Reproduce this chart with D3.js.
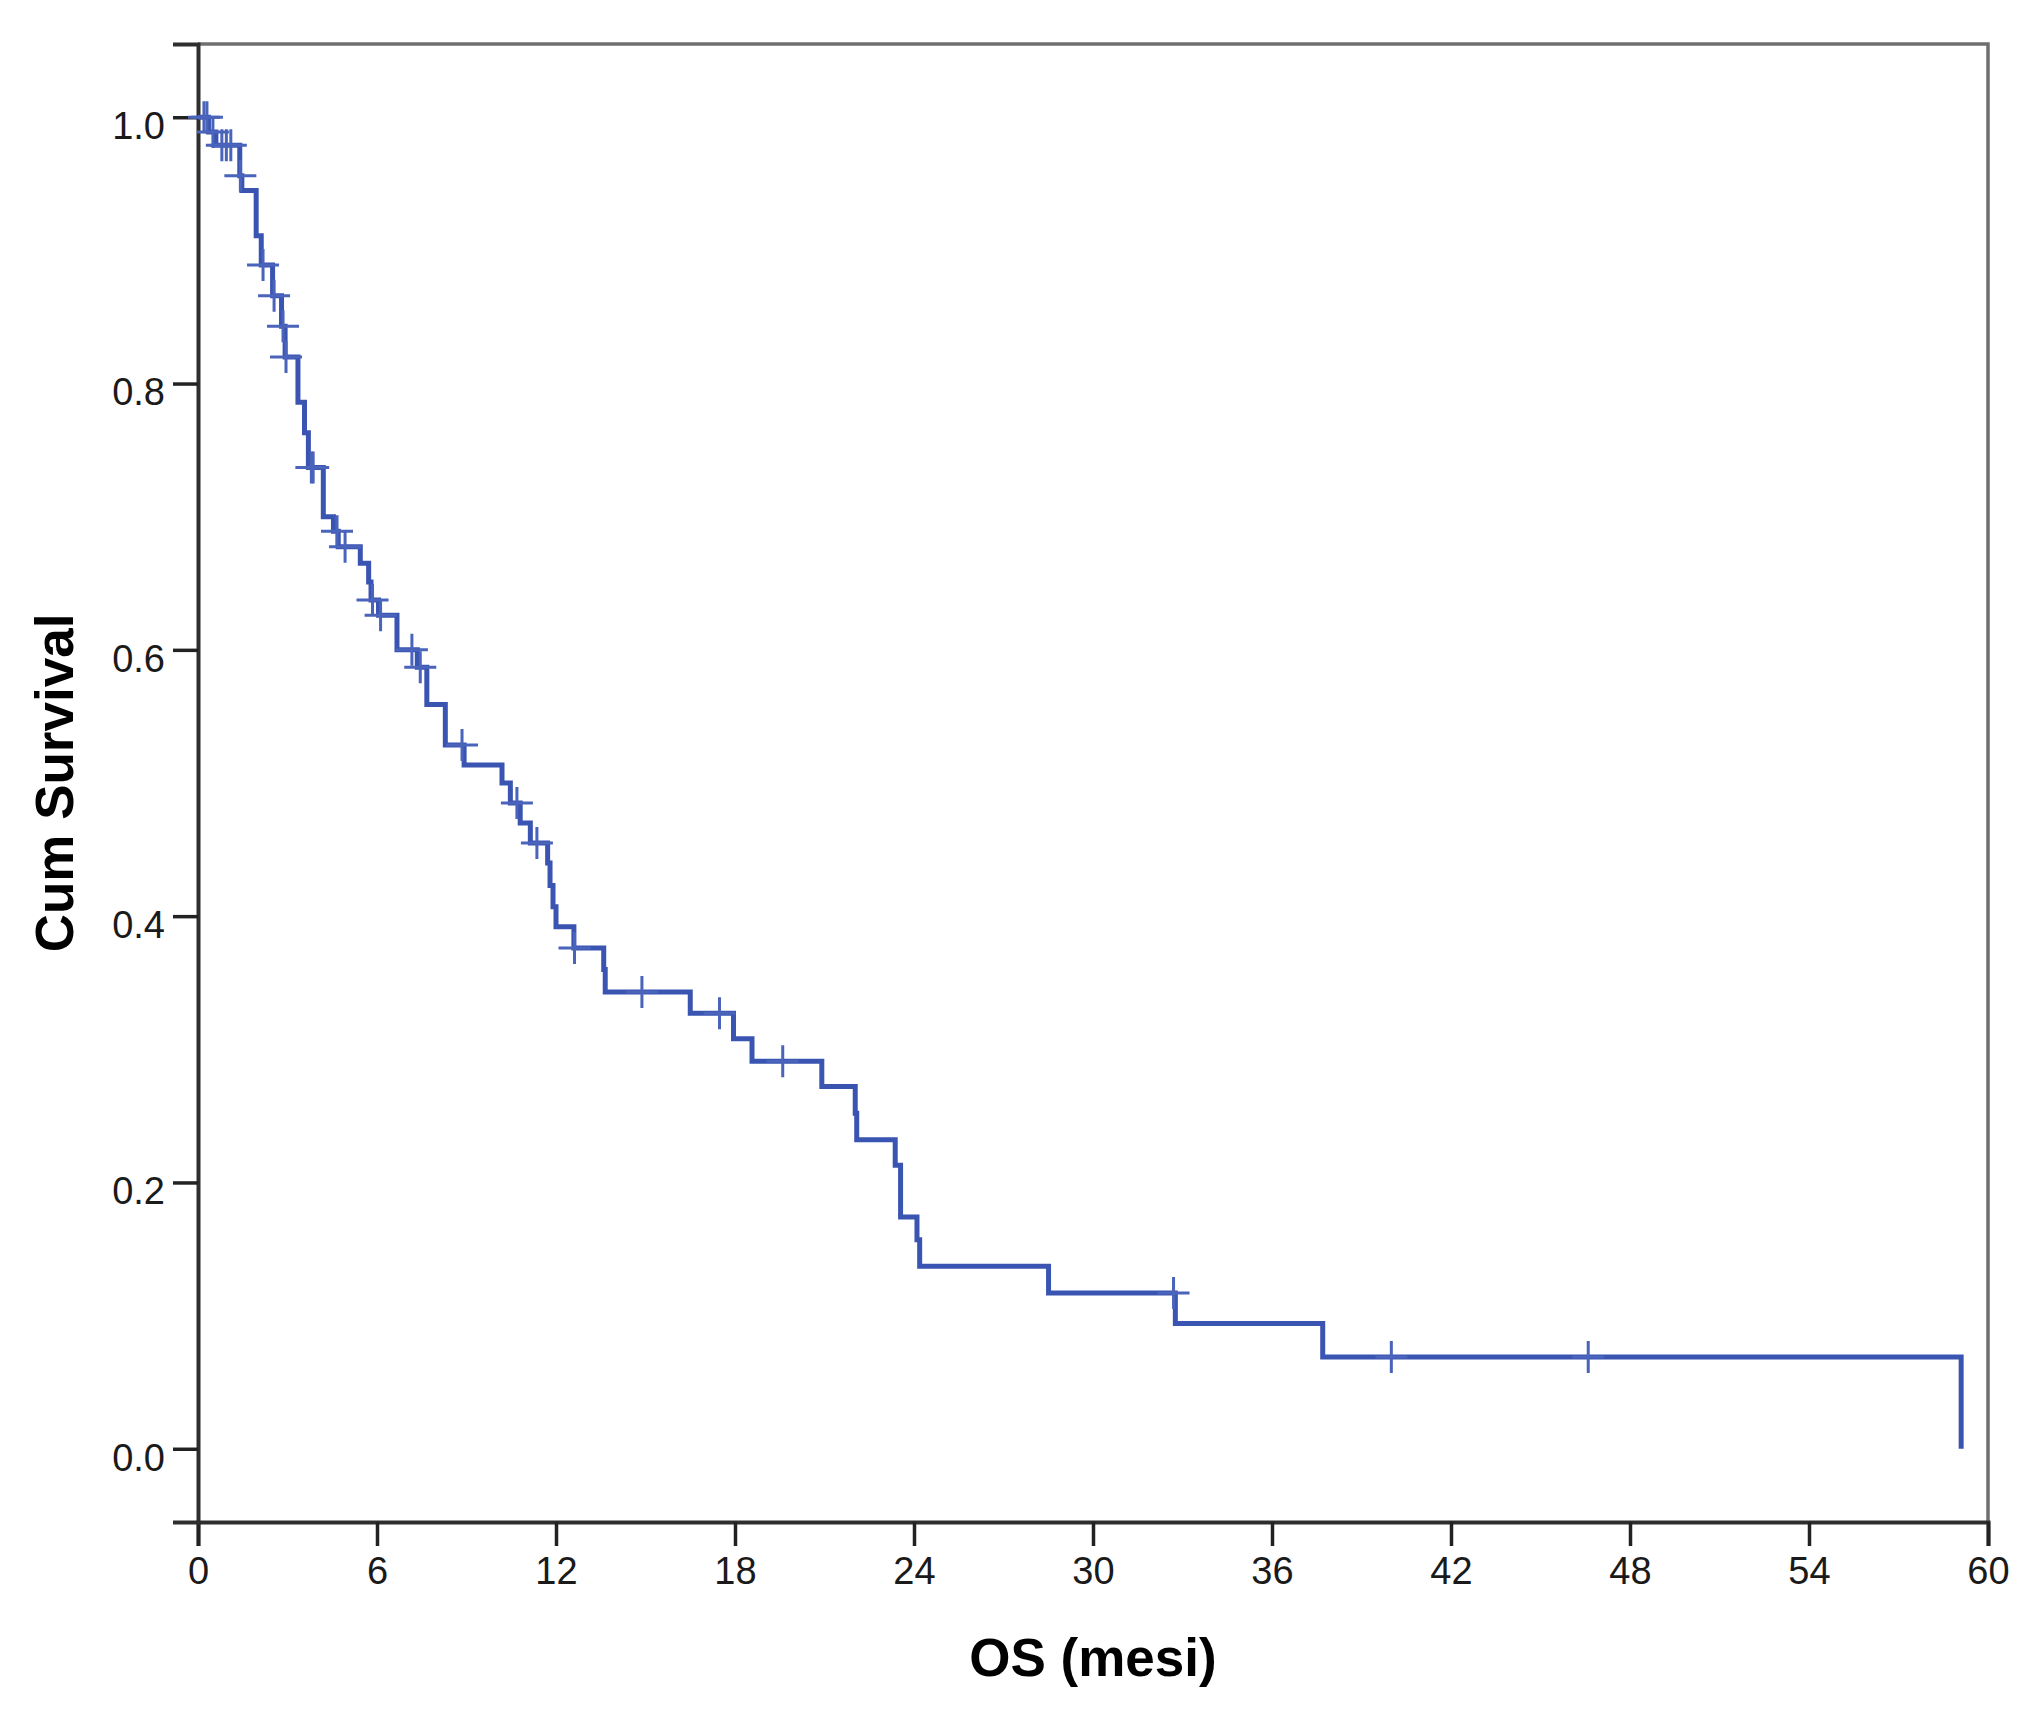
<!DOCTYPE html>
<html>
<head>
<meta charset="utf-8">
<script src="https://cdn.jsdelivr.net/npm/d3@7"></script>
<style>
  body { margin: 0; background: #fff; }
  .tick text { font-family: 'Liberation Sans', Arial, sans-serif; }
</style>
</head>
<body>
<div class="km-plot"></div>
<script>

/** Kaplan-Meier steps: time (months) of each drop and survival right after it */
const eventTimes = [0.35, 0.6, 1.40, 1.47, 1.95, 2.12, 2.5, 2.8, 2.92, 3.35,
    3.57, 3.7, 4.2, 4.54, 4.7, 5.44, 5.72, 5.8, 6.05, 6.67,
    7.35, 7.67, 8.29, 8.92, 10.19, 10.47, 10.8, 11.14, 11.72, 11.8,
    11.9, 12.0, 12.6, 13.6, 13.65, 16.5, 17.95, 18.57, 20.91, 22.03,
    22.08, 23.37, 23.55, 24.1, 24.19, 28.51, 32.76, 37.7, 59.1];
const survival = [0.989, 0.979, 0.956, 0.945, 0.911, 0.889, 0.866, 0.843, 0.820, 0.786,
    0.763, 0.737, 0.700, 0.689, 0.6775, 0.665, 0.651, 0.6375, 0.626, 0.600,
    0.587, 0.559, 0.5285, 0.5135, 0.500, 0.485, 0.470, 0.455, 0.440, 0.423,
    0.407, 0.392, 0.376, 0.360, 0.343, 0.327, 0.308, 0.291, 0.272, 0.252,
    0.232, 0.213, 0.174, 0.157, 0.137, 0.117, 0.094, 0.069, 0.0];

/** censored cases (months) */
const censorTimes = [0.2, 0.3, 0.5, 0.8, 0.95, 1.1, 1.42, 2.18, 2.55, 2.85,
    2.95, 3.8, 3.86, 4.66, 4.93, 5.85, 6.12, 7.17, 7.45, 8.85,
    10.69, 11.36, 12.62, 14.88, 17.48, 19.6, 32.7, 40.0, 46.6];

/** axis ticks */
const xTicks = [0, 6, 12, 18, 24, 30, 36, 42, 48, 54, 60];
const yTicks = [0.0, 0.2, 0.4, 0.6, 0.8, 1.0];

const xTitle = 'OS (mesi)';
const yTitle = 'Cum Survival';

/** Set up canvas */
let width = 2041, height = 1724;
let svg = d3.select('.km-plot').append('svg')
    .attr('width', width)
    .attr('height', height)
    .style('display', 'block');

let x = d3.scaleLinear()
    .domain([0, 60])
    .range([198, 1988]);
let y = d3.scaleLinear()
    .domain([-0.055, 1.055])
    .range([1522, 44]);

/** survival level at a given time (step function) */
function survAt (t) {
    let s = 1;
    eventTimes.forEach((e, i) => { if (e <= t) s = survival[i]; });
    return s;
}

/** frame (top and right) */
svg.append('path')
    .attr('d', `M${x(0)},${y(1.055)} H${x(60)} V${y(-0.055)}`)
    .attr('fill', 'none')
    .attr('stroke', '#707070')
    .attr('stroke-width', 3.5);

/** axes */
let xAxis = svg.append('g')
    .attr('transform', `translate(0, ${y(-0.055)})`)
    .call(d3.axisBottom(x).tickValues(xTicks).tickSize(24).tickPadding(11)
        .tickFormat(d3.format('d')));
let yAxis = svg.append('g')
    .attr('transform', `translate(${x(0)}, 0)`)
    .call(d3.axisLeft(y).tickValues(yTicks).tickSize(25).tickPadding(8)
        .tickFormat(d3.format('.1f')));

[xAxis, yAxis].forEach(function (g) {
    g.select('.domain')
        .attr('stroke', '#2e2e2e')
        .attr('stroke-width', 4);
    g.selectAll('.tick line')
        .attr('stroke', '#222')
        .attr('stroke-width', 3.5);
    g.selectAll('.tick text')
        .style('font-size', '38px')
        .attr('fill', '#1a1a1a');
});
yAxis.selectAll('.tick text').attr('dy', '0.56em');

/** survival curve */
let points = [[0, 1]].concat(eventTimes.map((t, i) => [t, survival[i]]));
let line = d3.line()
    .x(d => x(d[0]))
    .y(d => y(d[1]))
    .curve(d3.curveStepAfter);

svg.append('path')
    .datum(points)
    .attr('d', line)
    .attr('fill', 'none')
    .attr('stroke', '#3a54b2')
    .attr('stroke-width', 5)
    .attr('stroke-linejoin', 'miter');

/** censor marks */
let half = 16;
let marks = svg.append('g')
    .selectAll('.censor')
    .data(censorTimes)
    .enter()
    .append('path')
    .attr('class', 'censor')
    .attr('d', t => `M${x(t) - half},${y(survAt(t))} h${2 * half} M${x(t)},${y(survAt(t)) - half} v${2 * half}`)
    .attr('stroke', '#4a63bb')
    .attr('stroke-width', 3)
    .attr('fill', 'none');

/** axis titles */
svg.append('text')
    .attr('x', (x(0) + x(60)) / 2)
    .attr('y', 1676)
    .attr('text-anchor', 'middle')
    .style('font-family', "'Liberation Sans', Arial, sans-serif")
    .style('font-weight', 'bold')
    .style('font-size', '53px')
    .text(xTitle);

svg.append('text')
    .attr('transform', `translate(73, ${(y(1.055) + y(-0.055)) / 2}) rotate(-90)`)
    .attr('text-anchor', 'middle')
    .style('font-family', "'Liberation Sans', Arial, sans-serif")
    .style('font-weight', 'bold')
    .style('font-size', '53px')
    .text(yTitle);

</script>
</body>
</html>
